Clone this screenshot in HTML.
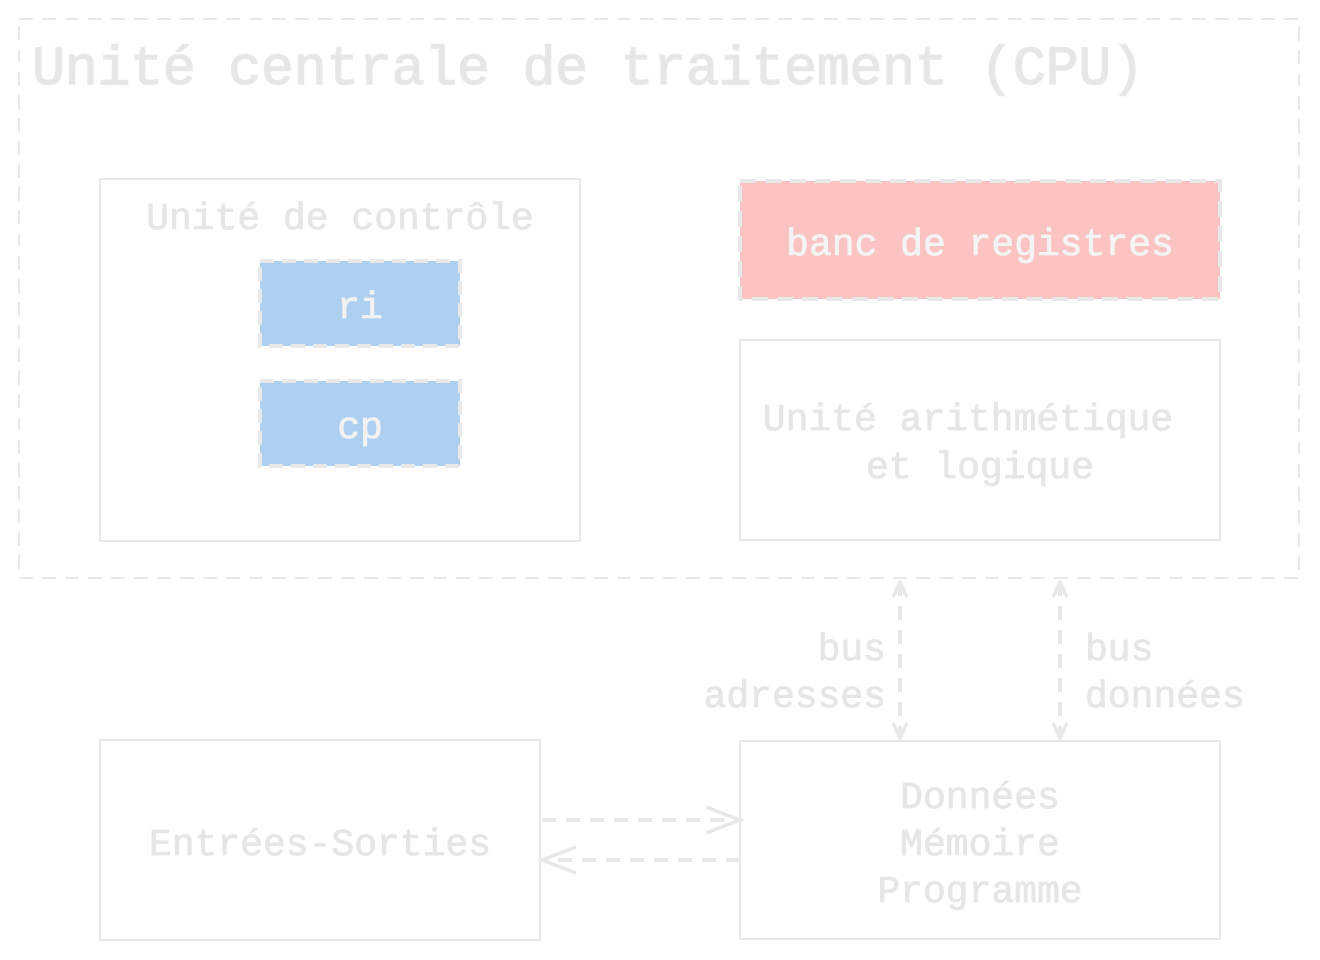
<!DOCTYPE html>
<html><head><meta charset="utf-8"><style>
html,body{margin:0;padding:0;background:#fff;}
svg{display:block;}
text{font-family:"Liberation Mono","DejaVu Sans Mono",monospace;fill:#e6e6e6;}
</style></head><body>
<svg width="1320" height="960" viewBox="0 0 1320 960" xmlns="http://www.w3.org/2000/svg">
<defs>
<marker id="ah" markerWidth="20" markerHeight="20" refX="17" refY="9" orient="auto" markerUnits="userSpaceOnUse">
<path d="M2,2 L17,9 L2,16" fill="none" stroke="#e8e8e8" stroke-width="3.5"/>
</marker>
<marker id="ahs" markerWidth="20" markerHeight="20" refX="2" refY="9" orient="auto" markerUnits="userSpaceOnUse">
<path d="M17,2 L2,9 L17,16" fill="none" stroke="#e8e8e8" stroke-width="3.5"/>
</marker>
<marker id="big" markerWidth="40" markerHeight="30" refX="36" refY="15" orient="auto" markerUnits="userSpaceOnUse">
<path d="M2,2 L36,15 L2,28" fill="none" stroke="#e8e8e8" stroke-width="3.5"/>
</marker>
</defs>
<g fill="none" stroke="#e8e8e8" stroke-width="2">
<rect x="19" y="19" width="1280" height="559" stroke-dasharray="14 9"/>
<rect x="100" y="179" width="480" height="362"/>
<rect x="740" y="340" width="480" height="200"/>
<rect x="100" y="740" width="440" height="200"/>
<rect x="740" y="741" width="480" height="198"/>
</g>
<rect x="260" y="261" width="200" height="85" fill="#aed0f0" stroke="#e8e8e8" stroke-width="4" stroke-dasharray="14 8"/>
<rect x="260" y="381" width="200" height="85" fill="#aed0f0" stroke="#e8e8e8" stroke-width="4" stroke-dasharray="14 8"/>
<rect x="740" y="181" width="480" height="118" fill="#fbc3c2" stroke="#e8e8e8" stroke-width="4" stroke-dasharray="16 9"/>
<g stroke="#e8e8e8" stroke-width="4" stroke-dasharray="14 10" fill="none">
<line x1="900" y1="582" x2="900" y2="738" marker-start="url(#ahs)" marker-end="url(#ah)"/>
<line x1="1060" y1="582" x2="1060" y2="738" marker-start="url(#ahs)" marker-end="url(#ah)"/>
<line x1="542" y1="820" x2="740" y2="820" marker-end="url(#big)"/>
<line x1="740" y1="860" x2="542" y2="860" marker-end="url(#big)"/>
</g>
<g style="stroke:#e6e6e6;stroke-width:0.8">
<text x="32" y="84" font-size="55" textLength="1112" style="stroke:#e8e8e8;stroke-width:1.5">Unité centrale de traitement (CPU)</text>
<text x="340" y="229" font-size="38" text-anchor="middle">Unité de contrôle</text>
<text x="360" y="318" font-size="38" text-anchor="middle" style="fill:#f2f2f2;stroke:#f2f2f2">ri</text>
<text x="360" y="438" font-size="38" text-anchor="middle" style="fill:#f2f2f2;stroke:#f2f2f2">cp</text>
<text x="980" y="255" font-size="38" text-anchor="middle" style="fill:#f4f4f4;stroke:#f4f4f4">banc de registres</text>
<text x="968" y="430" font-size="38" text-anchor="middle">Unité arithmétique</text>
<text x="980" y="478" font-size="38" text-anchor="middle">et logique</text>
<text x="320" y="855" font-size="38" text-anchor="middle">Entrées-Sorties</text>
<text x="980" y="808" font-size="38" text-anchor="middle">Données</text>
<text x="980" y="855" font-size="38" text-anchor="middle">Mémoire</text>
<text x="980" y="902" font-size="38" text-anchor="middle">Programme</text>
<text x="886" y="660" font-size="38" text-anchor="end">bus</text>
<text x="886" y="707" font-size="38" text-anchor="end">adresses</text>
<text x="1085" y="660" font-size="38">bus</text>
<text x="1085" y="707" font-size="38">données</text>
</g>
</svg>
</body></html>
